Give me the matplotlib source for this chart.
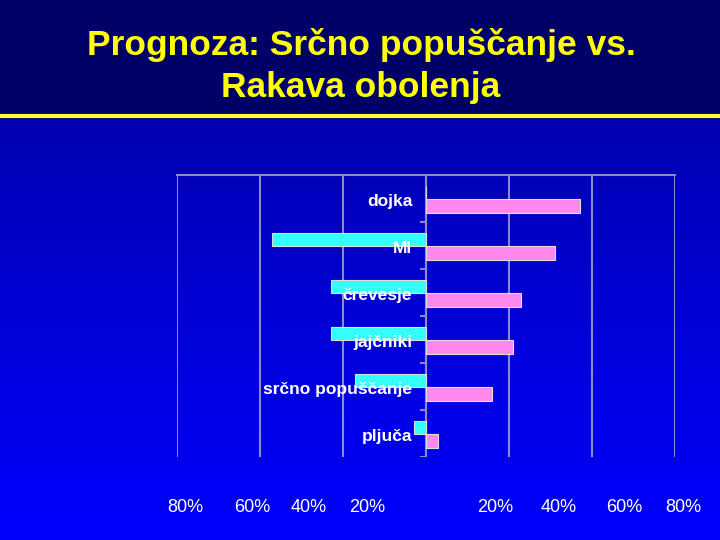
import numpy as np
import matplotlib
matplotlib.use("Agg")
import matplotlib.pyplot as plt
from matplotlib.colors import LinearSegmentedColormap

categories = ["dojka", "MI", "črevesje", "jajčniki", "srčno popuščanje", "pljuča"]
left_vals = [0, 37, 23, 23, 17, 3]     # cyan series (plotted to the left)
right_vals = [37, 31, 23, 21, 16, 3]   # pink series (plotted to the right)
tick_labels = ["80%", "60%", "40%", "20%", "20%", "40%", "60%", "80%"]
tick_label_px = [185, 252, 309, 367, 495, 559, 624, 683]

W, H = 720, 540
fig = plt.figure(figsize=(7.2, 5.4), dpi=100)
plt.rcParams['font.family'] = ['Liberation Sans', 'DejaVu Sans']

# background
bg = fig.add_axes([0, 0, 1, 1], zorder=-10)
bg.set_xlim(0, W); bg.set_ylim(H, 0); bg.axis("off")
cmap = LinearSegmentedColormap.from_list("bgc", ["#0000b0", "#0000ff"])
grad = np.linspace(0, 1, 256).reshape(-1, 1)
bg.imshow(grad, cmap=cmap, extent=[0, W, H, 118], aspect="auto")
bg.fill_between([0, W], 0, 118, color="#000066")
bg.plot([0, W], [116, 116], color="#ffff33", lw=3)
bg.text(361, 45, "Prognoza: Srčno popuščanje vs.", color="#ffff00", fontsize=25.5,
        fontweight="bold", ha="center", va="center")
bg.text(361, 88, "Rakava obolenja", color="#ffff00", fontsize=25.5,
        fontweight="bold", ha="center", va="center")
for lbl, px in zip(tick_labels, tick_label_px):
    bg.text(px, 508, lbl, color="white", fontsize=13, ha="center", va="center")

# chart axes
x0, x1, y0, y1 = 177, 675, 175, 457
ax = fig.add_axes([x0 / W, 1 - y1 / H, (x1 - x0) / W, (y1 - y0) / H])
ax.patch.set_alpha(0)
ax.set_xlim(-60, 60)
ax.set_ylim(len(categories), 0)
ax.set_xticks([-60, -40, -20, 0, 20, 40, 60])
ax.set_xticklabels([])
ax.tick_params(axis="x", length=0)
ax.grid(axis="x", color="#8a8ad0", lw=1.5)
ax.set_axisbelow(True)
for s in ["left", "right", "bottom"]:
    ax.spines[s].set_visible(False)
ax.spines["top"].set_color("#8a8ad0")
ax.spines["top"].set_linewidth(1.5)
ax.set_yticks([])

y = np.arange(len(categories)) + 0.5
h = 0.28
ax.barh(y - h / 2 + 0.02, [-v for v in left_vals], height=h, color="#33ffff",
        edgecolor="#dddddd", lw=0.8, zorder=3)
ax.barh(y + h / 2 + 0.02, right_vals, height=h, color="#ff88ee",
        edgecolor="#dddddd", lw=0.8, zorder=3)
ax.axvline(0, color="#8a8ad0", lw=1.5, zorder=2)
for b in range(1, len(categories) + 1):
    ax.plot([-1.2, 0], [b, b], color="#8a8ad0", lw=1.5, zorder=2)
for cat, yy in zip(categories, y):
    ax.text(-3.3, yy + 0.06, cat, color="white", fontsize=12.5, fontweight="bold",
            ha="right", va="center", zorder=5)

fig.savefig("out.png", dpi=100)
